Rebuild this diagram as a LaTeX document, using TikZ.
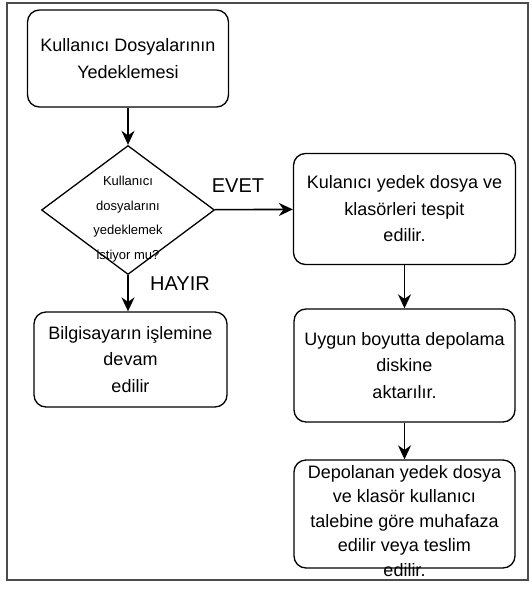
\documentclass[tikz,border=0pt]{standalone}
\usepackage{fontspec}
\setmainfont{Liberation Sans}
\usetikzlibrary{arrows.meta, shapes.geometric}

\begin{document}
\begin{tikzpicture} [x = 1pt, y = -1pt,
    stepbox/.style = {draw, rounded corners = 12pt, line width = 1.3pt, align = center, inner sep = 0pt, font = \fontsize{18}{26.5}\selectfont},
    decision/.style = {draw, diamond, line width = 1.3pt, inner sep = 0pt},
    overtext/.style = {align = center, inner sep = 0pt},
    answer/.style = {inner sep = 0pt, font = \fontsize{20}{24}\selectfont}]
    \useasboundingbox (0,0) rectangle (532,592);
    \draw [black!70, line width = 1.2pt] (7,3) rectangle (528,580);
    \node (start) [stepbox, minimum width = 201pt, minimum height = 97pt] at (128,58.5) {Kullanıcı Dosyalarının\\Yedeklemesi};
    \node (ask) [decision, minimum width = 173pt, minimum height = 129pt,
        label = {[overtext, yshift = -9pt, font = \fontsize{13}{24.5}\selectfont]center:Kullanıcı\\dosyalarını\\yedeklemek\\istiyor mu?}] at (128,210) {};
    \node (spot) [stepbox, minimum width = 222pt, minimum height = 111pt] at (404.5,209) {Kulanıcı yedek dosya ve\\klasörleri tespit\\edilir.};
    \node (move) [stepbox, minimum width = 221pt, minimum height = 113pt] at (404.5,365.5) {Uygun boyutta depolama\\diskine\\aktarılır.};
    \node (keep) [stepbox, minimum width = 221pt, minimum height = 108pt,
        label = {[overtext, yshift = -7pt, font = \fontsize{18}{24.5}\selectfont]center:Depolanan yedek dosya\\ve klasör kullanıcı\\talebine göre muhafaza\\edilir veya teslim\\edilir.}] at (404.5,514) {};
    \node (goon) [stepbox, minimum width = 193pt, minimum height = 95pt] at (130.5,359.5) {Bilgisayarın işlemine\\devam\\edilir};
    \node (yes) [answer] at (238,186) {EVET};
    \node (no) [answer] at (180,284) {HAYIR};
    %\node (no) [answer, below right = 2pt of ask.south] {HAYIR};
    \path [-{Stealth[length = 14pt, width = 13pt]}, line width = 1.6pt]
    (start) edge (ask)
    (ask) edge (spot)
    (ask.south) edge (ask.south |- goon.north)
    (spot) edge (move)
    (move) edge (keep);

\end{tikzpicture}
\end{document}
